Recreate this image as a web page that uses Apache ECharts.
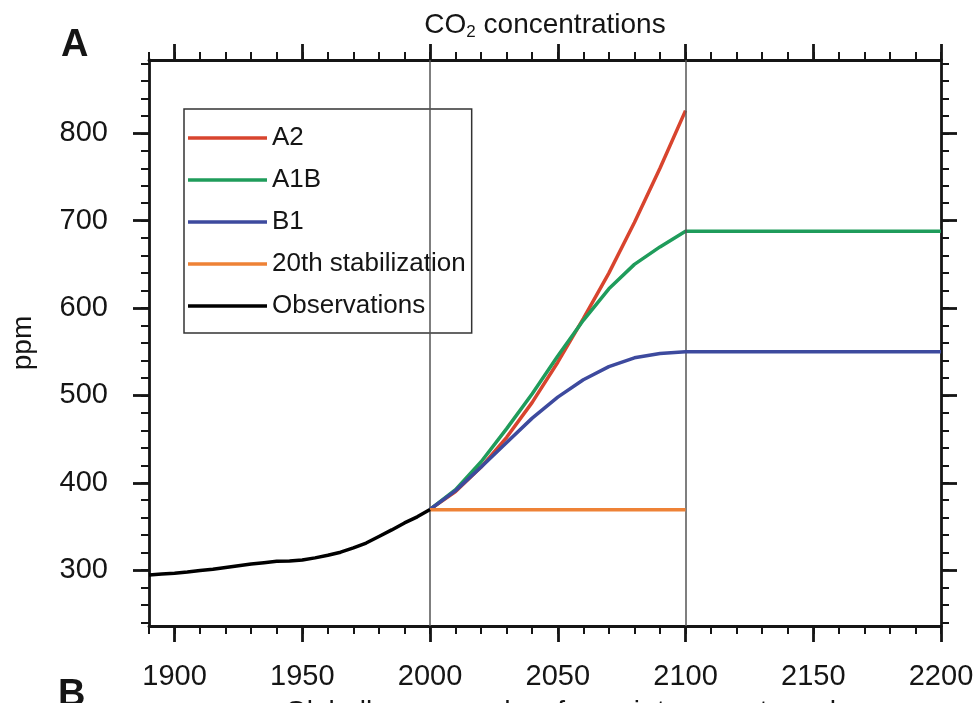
<!DOCTYPE html>
<html>
<head>
<meta charset="utf-8">
<script src="https://cdn.jsdelivr.net/npm/echarts@6/dist/echarts.min.js"></script>
<style>
  html, body { margin: 0; padding: 0; background: #ffffff; }
  #chart { width: 978px; height: 703px; }
</style>
</head>
<body>
<div id="chart"></div>
<script>
// Observed CO2 concentration (ppm)
const obsYears = [1890, 1895, 1900, 1905, 1910, 1915, 1920, 1925, 1930, 1935, 1940, 1945,
                  1950, 1955, 1960, 1965, 1970, 1975, 1980, 1985, 1990, 1995, 2000];
const obsPpm   = [294.5, 295.5, 296.5, 297.8, 299.5, 301, 303, 305, 307, 308.5, 310, 310.5,
                  311.5, 314, 317, 320.5, 325.5, 331, 338.5, 346, 354, 361, 369.5];

// SRES scenario concentrations, 2000-2100
const scenYears = [2000, 2010, 2020, 2030, 2040, 2050, 2060, 2070, 2080, 2090, 2100];
const a2Ppm  = [369.5, 390, 418, 452, 492, 538, 588, 640, 698, 760, 826];
const a1bPpm = [369.5, 392, 424, 462, 502, 545, 586, 622, 650, 670, 688];
const b1Ppm  = [369.5, 391, 418, 446, 474, 498, 518, 533, 543, 548, 550];

// Concentrations held fixed after 2100
const holdYears = [2150, 2200];
const a1bHold = [688, 688];
const b1Hold  = [550, 550];

// Constant year-2000 concentration
const stabYears = [2000, 2100];
const stabPpm   = [369, 369];

// Axis ticks
const xMajorTicks = [1900, 1950, 2000, 2050, 2100, 2150, 2200];
const yMajorTicks = [300, 400, 500, 600, 700, 800];
const yMinorTicks = [];
for (let v = 240; v <= 880; v += 20) yMinorTicks.push(v);

const seriesNames = ['A2', 'A1B', 'B1', '20th stabilization', 'Observations'];
const colors = {
  'A2': '#d8442e',
  'A1B': '#1f9c5b',
  'B1': '#3d4a9e',
  '20th stabilization': '#ee8236',
  'Observations': '#000000'
};

const FONT = '"Liberation Sans", Arial, Helvetica, sans-serif';
const INK = '#151515';

function pairs(xs, ys) { return xs.map((x, i) => [x, ys[i]]); }

const X_MIN = 1890, X_MAX = 2200, Y_MIN = 236, Y_MAX = 884;

function xAxisDef(position, major) {
  return {
    type: 'value', position: position, min: X_MIN, max: X_MAX,
    interval: major ? undefined : 10,
    axisLine: { show: major, onZero: false, lineStyle: { color: INK, width: 2.8 } },
    axisTick: major
      ? { show: true, customValues: xMajorTicks, length: 16, lineStyle: { color: INK, width: 2.8 } }
      : { show: true, length: 8, lineStyle: { color: INK, width: 2 } },
    axisLabel: (major && position === 'bottom')
      ? { show: true, customValues: xMajorTicks, formatter: v => String(v),
          fontSize: 29, fontFamily: FONT, color: INK, margin: 36 }
      : { show: false },
    splitLine: { show: false }
  };
}

function yAxisDef(position, major) {
  const def = {
    type: 'value', position: position, min: Y_MIN, max: Y_MAX,
    axisLine: { show: major, onZero: false, lineStyle: { color: INK, width: 2.8 } },
    axisTick: major
      ? { show: true, customValues: yMajorTicks, length: 16, lineStyle: { color: INK, width: 2.8 } }
      : { show: true, customValues: yMinorTicks, length: 8, lineStyle: { color: INK, width: 2 } },
    axisLabel: (major && position === 'left')
      ? { show: true, customValues: yMajorTicks, formatter: v => String(v),
          fontSize: 29, fontFamily: FONT, color: INK, margin: 41 }
      : { show: false },
    splitLine: { show: false }
  };
  if (major && position === 'left') {
    def.name = 'ppm';
    def.nameLocation = 'middle';
    def.nameRotate = 90;
    def.nameGap = 112;
    def.nameTextStyle = { fontSize: 28, fontFamily: FONT, color: INK };
  }
  return def;
}

function lineSeries(name, data, z) {
  return {
    name: name, type: 'line', data: data, xAxisIndex: 0, yAxisIndex: 0,
    symbol: 'none', smooth: false, z: z,
    lineStyle: { color: colors[name], width: 3.5 },
    itemStyle: { color: colors[name] }
  };
}

const a2Series = lineSeries('A2', pairs(scenYears, a2Ppm), 3);
a2Series.markLine = {
  silent: true, symbol: ['none', 'none'], label: { show: false },
  lineStyle: { color: '#555555', width: 1.5, type: 'solid' },
  data: [{ xAxis: 2000 }, { xAxis: 2100 }]
};

const option = {
  animation: false,
  backgroundColor: '#ffffff',
  grid: { left: 149, right: 37, top: 60, bottom: 77, containLabel: false },
  xAxis: [
    xAxisDef('bottom', true), xAxisDef('bottom', false),
    xAxisDef('top', true), xAxisDef('top', false)
  ],
  yAxis: [
    yAxisDef('left', true), yAxisDef('left', false),
    yAxisDef('right', true), yAxisDef('right', false)
  ],
  legend: {
    data: seriesNames,
    orient: 'vertical', left: 184, top: 109,
    padding: [16, 6, 14, 4], itemGap: 16,
    itemWidth: 79, itemHeight: 3.5, icon: 'rect',
    backgroundColor: '#ffffff', borderColor: '#333333', borderWidth: 1.5, borderRadius: 0,
    textStyle: { fontSize: 26, fontFamily: FONT, color: INK },
    selectedMode: false
  },
  graphic: [
    {
      type: 'text', x: 545, y: 25, silent: true,
      style: {
        text: '{a|CO}{s|2}{a| concentrations}',
        align: 'center', verticalAlign: 'middle',
        rich: {
          a: { fontSize: 28, fontFamily: FONT, fill: INK, lineHeight: 32 },
          s: { fontSize: 17, fontFamily: FONT, fill: INK, lineHeight: 32, verticalAlign: 'bottom' }
        }
      }
    },
    {
      type: 'text', x: 61, y: 46, silent: true,
      style: { text: 'A', font: 'bold 38px ' + FONT, fill: INK, align: 'left', verticalAlign: 'middle' }
    },
    {
      type: 'text', x: 58, y: 696, silent: true,
      style: { text: 'B', font: 'bold 38px ' + FONT, fill: INK, align: 'left', verticalAlign: 'middle' }
    },
    {
      type: 'text', x: 285, y: 698, silent: true,
      style: { text: 'Globally averaged surface air temperature change', font: '28px ' + FONT, fill: INK,
               align: 'left', verticalAlign: 'top' }
    }
  ],
  series: [
    a2Series,
    lineSeries('A1B', pairs(scenYears.concat(holdYears), a1bPpm.concat(a1bHold)), 4),
    lineSeries('B1', pairs(scenYears.concat(holdYears), b1Ppm.concat(b1Hold)), 5),
    lineSeries('20th stabilization', pairs(stabYears, stabPpm), 6),
    lineSeries('Observations', pairs(obsYears, obsPpm), 7)
  ]
};

const chart = echarts.init(document.getElementById('chart'), null, { renderer: 'canvas' });
chart.setOption(option);
</script>
</body>
</html>
